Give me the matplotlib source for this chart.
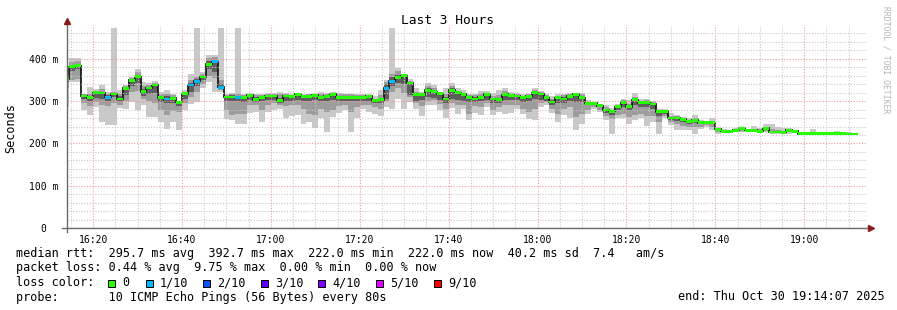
import matplotlib
matplotlib.use("Agg")
import matplotlib.pyplot as plt  # noqa: E402
from matplotlib.patches import Rectangle  # noqa: E402

W, H = 897, 310
MONO = "DejaVu Sans Mono"

# time axis in minutes after 16:00, RRD step is 80 s, first full step ends 16:14:40
STEP = 80 / 60
FIRST_END = 14 + 40 / 60
VIEW_START = 14 + 7 / 60
VIEW_END = 194 + 7 / 60

# median rtt per step (ms)
median = [352, 381, 384, 312, 308, 320, 319, 309, 317, 305,
          330, 349, 358, 322, 331, 338, 308, 305, 307, 297,
          318, 338, 347, 357, 387, 393, 333, 310, 310, 308,
          308, 314, 303, 308, 312, 312, 301, 312, 311, 316,
          311, 311, 314, 308, 311, 316, 309, 308, 309, 308,
          309, 311, 301, 303, 330, 347, 355, 360, 343, 316,
          316, 326, 322, 318, 305, 326, 320, 316, 309, 305,
          309, 316, 305, 303, 316, 314, 312, 308, 311, 320,
          317, 308, 298, 308, 305, 311, 316, 308, 295, 295,
          289, 279, 276, 287, 297, 287, 303, 296, 296, 293,
          275, 276, 260, 260, 257, 252, 255, 249, 249, 249,
          233, 229, 229, 231, 236, 231, 231, 229, 236, 227,
          227, 226, 231, 229, 223, 223, 223, 223, 223, 223,
          223, 223, 222, 222]

# lost pings out of 10 per step
loss = [0, 0, 0, 0, 0, 0, 0, 1, 0, 0,
        0, 0, 0, 0, 0, 0, 0, 1, 0, 0,
        0, 1, 1, 0, 0, 1, 1, 0, 0, 1,
        0, 0, 0, 0, 0, 0, 0, 0, 0, 0,
        0, 0, 0, 0, 0, 0, 0, 0, 0, 0,
        0, 0, 0, 0, 1, 1, 0, 0, 0, 0,
        0, 0, 0, 0, 0, 0, 0, 0, 0, 0,
        0, 0, 0, 0, 0, 0, 0, 0, 0, 0,
        0, 0, 0, 0, 0, 0, 0, 0, 0, 0,
        0, 0, 0, 0, 0, 0, 0, 0, 0, 0,
        0, 0, 0, 0, 0, 0, 0, 0, 0, 0,
        0, 0, 0, 0, 0, 0, 0, 0, 0, 0,
        0, 0, 0, 0, 0, 0, 0, 0, 0, 0,
        0, 0, 0, 0]

# smoke: outer range (min/max ping)
smoke_hi1 = [352, 402, 402, 318, 334, 328, 339, 322, 473, 326,
             338, 357, 377, 346, 344, 347, 322, 326, 318, 300,
             326, 365, 473, 370, 409, 409, 473, 318, 320, 473,
             316, 320, 318, 318, 320, 320, 322, 320, 318, 320,
             318, 318, 320, 322, 320, 322, 320, 318, 318, 318,
             318, 318, 312, 326, 350, 473, 379, 365, 352, 330,
             322, 342, 339, 322, 330, 342, 330, 326, 316, 318,
             323, 325, 319, 326, 330, 322, 320, 316, 318, 330,
             325, 318, 312, 316, 318, 320, 320, 320, 302, 298,
             293, 290, 284, 294, 306, 302, 320, 306, 306, 300,
             281, 281, 271, 268, 263, 259, 268, 255, 252, 260,
             239, 234, 232, 237, 239, 235, 242, 237, 245, 245,
             240, 237, 237, 232, 227, 227, 233, 224, 224, 224,
             230, 226, 226, 224]
smoke_lo1 = [286, 346, 346, 279, 267, 286, 251, 243, 243, 284,
             282, 298, 278, 290, 263, 263, 251, 235, 251, 231,
             278, 294, 298, 330, 346, 322, 322, 257, 255, 245,
             247, 271, 275, 251, 275, 280, 282, 260, 265, 268,
             247, 251, 237, 259, 227, 263, 272, 278, 227, 259,
             281, 275, 270, 265, 286, 281, 306, 281, 298, 282,
             265, 290, 292, 278, 259, 284, 270, 281, 255, 273,
             267, 285, 267, 275, 270, 273, 281, 270, 257, 255,
             285, 290, 273, 251, 267, 260, 231, 247, 270, 281,
             275, 255, 223, 259, 259, 247, 255, 259, 241, 251,
             223, 259, 243, 231, 231, 231, 223, 235, 239, 231,
             223, 225, 226, 226, 226, 227, 227, 225, 227, 222,
             222, 222, 223, 225, 222, 222, 222, 222, 222, 222,
             222, 222, 222, 221]
# smoke: middle pings
smoke_hi2 = [350, 392, 394, 316, 318, 324, 328, 318, 322, 318,
             336, 354, 370, 335, 338, 342, 318, 318, 314, 299,
             322, 350, 358, 364, 402, 405, 350, 314, 318, 318,
             314, 318, 314, 314, 318, 316, 316, 318, 315, 318,
             315, 316, 318, 318, 316, 320, 316, 316, 316, 314,
             314, 315, 306, 315, 345, 363, 372, 363, 348, 322,
             318, 335, 330, 320, 316, 335, 325, 320, 314, 314,
             316, 320, 312, 314, 325, 318, 316, 313, 316, 326,
             322, 314, 306, 312, 314, 318, 318, 316, 298, 297,
             291, 285, 280, 290, 302, 294, 310, 300, 302, 297,
             278, 279, 266, 264, 260, 256, 260, 252, 251, 254,
             236, 231, 231, 233, 238, 233, 235, 233, 240, 235,
             232, 230, 234, 231, 224, 224, 226, 223, 223, 223,
             228, 223, 223, 223]
smoke_lo2 = [330, 350, 352, 296, 289, 298, 290, 288, 296, 292,
             300, 322, 325, 305, 300, 296, 280, 268, 276, 275,
             295, 310, 322, 340, 360, 355, 326, 278, 268, 270,
             270, 290, 290, 280, 290, 295, 290, 288, 290, 290,
             282, 270, 268, 282, 275, 280, 288, 290, 275, 285,
             292, 290, 285, 282, 300, 322, 330, 320, 310, 295,
             288, 300, 302, 293, 282, 295, 290, 290, 270, 288,
             285, 295, 278, 285, 290, 290, 292, 282, 275, 282,
             295, 298, 282, 270, 282, 285, 262, 270, 280, 285,
             280, 265, 258, 268, 270, 262, 268, 270, 265, 265,
             250, 265, 250, 245, 242, 240, 240, 240, 243, 240,
             228, 227, 227, 228, 229, 228, 228, 226, 230, 224,
             224, 223, 226, 226, 222, 222, 222, 222, 222, 222,
             222, 222, 222, 221]
# smoke: pings nearest the median
smoke_hi3 = [352, 386, 388, 314, 312, 322, 322, 314, 320, 312,
             333, 351, 362, 328, 334, 340, 312, 312, 310, 298,
             320, 344, 352, 360, 395, 398, 340, 312, 314, 312,
             311, 316, 310, 311, 315, 314, 308, 315, 313, 317,
             313, 313, 316, 312, 313, 318, 312, 312, 312, 311,
             312, 313, 304, 308, 340, 357, 362, 361, 345, 318,
             317, 330, 326, 319, 310, 330, 322, 318, 311, 310,
             312, 318, 308, 308, 320, 316, 314, 310, 313, 322,
             319, 311, 302, 310, 309, 314, 317, 312, 297, 296,
             290, 282, 278, 288, 299, 290, 306, 298, 298, 295,
             277, 277, 263, 262, 258, 254, 257, 250, 250, 251,
             234, 230, 230, 232, 237, 232, 232, 231, 237, 229,
             229, 227, 232, 230, 223, 223, 223, 223, 223, 223,
             226, 223, 223, 222]
smoke_lo3 = [345, 372, 375, 305, 300, 308, 305, 300, 310, 300,
             315, 335, 342, 312, 316, 320, 298, 296, 296, 288,
             305, 322, 335, 350, 375, 370, 328, 300, 300, 300,
             298, 302, 298, 300, 302, 303, 296, 300, 300, 302,
             300, 300, 302, 300, 300, 302, 300, 300, 300, 300,
             300, 300, 295, 296, 305, 335, 342, 340, 315, 300,
             302, 310, 308, 302, 295, 305, 302, 300, 298, 298,
             300, 302, 295, 296, 302, 302, 302, 298, 300, 305,
             303, 300, 290, 296, 296, 300, 298, 298, 290, 291,
             286, 272, 268, 278, 285, 278, 290, 285, 285, 282,
             265, 270, 255, 252, 250, 246, 248, 245, 246, 245,
             230, 228, 228, 229, 232, 229, 229, 227, 233, 225,
             225, 224, 228, 227, 222, 222, 222, 222, 222, 222,
             222, 222, 222, 221]

x_ticks = [20, 40, 60, 80, 100, 120, 140, 160, 180]
x_labels = ["16:20", "16:40", "17:00", "17:20", "17:40", "18:00", "18:20", "18:40", "19:00"]
y_ticks = [0, 100, 200, 300, 400]
y_labels = ["0  ", "100 m", "200 m", "300 m", "400 m"]

loss_labels = ["0", "1/10", "2/10", "3/10", "4/10", "5/10", "9/10"]
loss_colors = ["#26ff00", "#00b8ff", "#0059ff", "#5e00ff", "#7e00ff", "#dd00ff", "#ff0000"]
loss_steps = [0, 1, 2, 3, 4, 5, 9]
stat_lines = [
    "median rtt:  295.7 ms avg  392.7 ms max  222.0 ms min  222.0 ms now  40.2 ms sd  7.4   am/s",
    "packet loss: 0.44 % avg  9.75 % max  0.00 % min  0.00 % now",
    "loss color:",
    "probe:       10 ICMP Echo Pings (56 Bytes) every 80s",
]
end_text = "end: Thu Oct 30 19:14:07 2025"

fig = plt.figure(figsize=(W / 100, H / 100), dpi=100)
fig.patch.set_facecolor("white")
ax = fig.add_axes([67 / W, 82 / H, 800 / W, 203 / H])
ax.set_xlim(VIEW_START, VIEW_END)
ax.set_ylim(0, 480)
for s in ax.spines.values():
    s.set_visible(False)

edges = [FIRST_END + (i - 1) * STEP for i in range(len(median) + 1)]
lefts = edges[:-1]


def ext(vals):
    return list(vals) + [vals[-1]]


# smoke layers, lightest first
for lo, hi, col in [(smoke_lo1, smoke_hi1, "#c9c9c9"),
                    (smoke_lo2, smoke_hi2, "#9c9c9c"),
                    (smoke_lo3, smoke_hi3, "#5e5e5e")]:
    ax.fill_between(edges, ext(lo), ext(hi), step="post", color=col,
                    linewidth=0, zorder=1)

ax.stairs(median, edges, baseline=None, color="#1a1a1a", linewidth=1.3, zorder=2)

color_of = dict(zip(loss_steps, loss_colors))
band = 6.5
ax.bar(lefts, [band] * len(median), bottom=[m - band / 2 for m in median],
       width=STEP, align="edge", color=[color_of[v] for v in loss],
       linewidth=0, zorder=3)

# grid
ax.set_xticks(x_ticks)
ax.set_xticks(range(15, 195, 5), minor=True)
ax.set_yticks(y_ticks)
ax.set_yticks(range(20, 480, 20), minor=True)
ax.set_xticklabels(x_labels, fontfamily=MONO, fontsize=7)
ax.set_yticklabels(y_labels, fontfamily=MONO, fontsize=7)
ax.tick_params(which="both", length=0)
ax.tick_params(axis="x", pad=5)
ax.tick_params(axis="y", pad=6)
ax.set_axisbelow(False)
ax.grid(which="minor", color="#c8c8c8", linestyle=(0, (1, 1.5)), linewidth=0.8)
ax.grid(which="major", color="#f29a9a", linestyle=(0, (1, 1.5)), linewidth=0.8)

# axis lines with arrows
ax.plot([-5 / 800, 1.004], [0, 0], transform=ax.transAxes, clip_on=False,
        color="#6a6a6a", linewidth=1, zorder=5)
ax.plot([0, 0], [-4 / 203, 1.015], transform=ax.transAxes, clip_on=False,
        color="#6a6a6a", linewidth=1, zorder=5)
ax.plot([1.005], [0], marker=">", markersize=4, color="#8b1a1a",
        transform=ax.transAxes, clip_on=False, zorder=6)
ax.plot([0], [1.02], marker="^", markersize=4, color="#8b1a1a",
        transform=ax.transAxes, clip_on=False, zorder=6)

fig.text(447 / W, 1 - 20 / H, "Last 3 Hours", ha="center", va="center",
         fontfamily=MONO, fontsize=9.3)
fig.text(11 / W, 1 - 128 / H, "Seconds", ha="center", va="center",
         rotation=90, fontfamily=MONO, fontsize=8.5)
fig.text(886 / W, 1 - 60 / H, "RRDTOOL / TOBI OETIKER", ha="center", va="center",
         rotation=270, fontfamily=MONO, fontsize=5.8, color="#b4b4b4")

rows = [254, 268, 283, 297]
for txt, yy in zip(stat_lines, rows):
    fig.text(16 / W, 1 - yy / H, txt, ha="left", va="center",
             fontfamily=MONO, fontsize=8.5)
fig.text(678 / W, 1 - rows[3] / H, end_text, ha="left", va="center",
         fontfamily=MONO, fontsize=8.5)

sq_x = [108, 146, 203, 261, 318, 376, 434]
for xx, lab, col in zip(sq_x, loss_labels, loss_colors):
    fig.patches.append(Rectangle((xx / W, 1 - (rows[2] + 4) / H), 7 / W, 7 / H,
                                 transform=fig.transFigure, facecolor=col,
                                 edgecolor="black", linewidth=0.7))
    fig.text((xx + 14) / W, 1 - rows[2] / H, lab, ha="left", va="center",
             fontfamily=MONO, fontsize=8.5)

fig.savefig("out.png", dpi=100)
